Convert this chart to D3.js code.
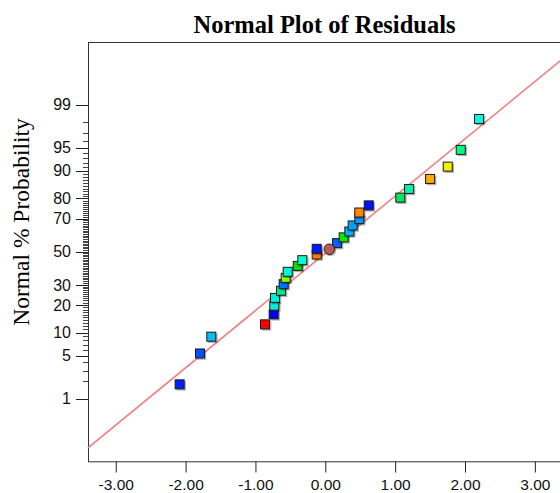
<!DOCTYPE html>
<html>
<head>
<meta charset="utf-8">
<script src="https://cdn.jsdelivr.net/npm/d3@7"></script>
<style>
  html, body { margin: 0; padding: 0; background: #fff; }
  svg { display: block; }
</style>
</head>
<body>
<svg id="chart" width="560" height="493"></svg>
<script>
// ---- data ----
const titleText = "Normal Plot of Residuals";
const yTitleText = "Normal % Probability";

const xTicks = [-3, -2, -1, 0, 1, 2, 3];
const xTickLabels = ["-3.00", "-2.00", "-1.00", "0.00", "1.00", "2.00", "3.00"];
const yMajorTicks = [1, 5, 10, 20, 30, 50, 70, 80, 90, 95, 99];
const yTickLabels = ["1", "5", "10", "20", "30", "50", "70", "80", "90", "95", "99"];
const yMinorTicks = d3.range(1, 100);

// residuals (x) and normal % probability (y) of the square points
const residuals = [-2.078, -1.787, -1.625, -0.856, -0.732, -0.723, -0.713, -0.627, -0.589, -0.560,
                   -0.531, -0.388, -0.322, -0.116, -0.116, 0.175, 0.270, 0.351, 0.399, 0.494,
                   0.494, 0.629, 1.081, 1.206, 1.507, 1.760, 1.946, 2.208];
const probabilities = [1.79, 5.36, 8.93, 12.5, 16.07, 19.64, 23.21, 26.79, 30.36, 33.93,
                       37.5, 41.07, 44.64, 48.21, 51.79, 55.36, 58.93, 62.5, 66.07, 69.64,
                       73.21, 76.79, 80.36, 83.93, 87.5, 91.07, 94.64, 98.21];
const pointColors = ["#0020ff", "#0050ff", "#00c0f0", "#ff0000", "#0000ff", "#00f0d8", "#00ecd8", "#00e890",
                     "#0070ff", "#80ff00", "#00f8d8", "#00e000", "#00ffd0", "#ff8000", "#0018ff", "#0060ff",
                     "#00ee00", "#00b0ff", "#00a4ff", "#0098ff", "#ff8800", "#0010ff", "#00e860", "#00f0b0",
                     "#ffaa00", "#f0f000", "#00ff80", "#00ffe0"];

// special circle point
const circleResidual = [0.064];
const circleProbability = [51.5];
const circleColor = "#b65a5a";

// fitted normal line (mean, sd of residuals)
const fitMean = 0.036;
const fitSd = 1.104;

(function () {
// ---- helpers ----
function normInv(p) {
  // Acklam's algorithm
  const a = [-3.969683028665376e+01, 2.209460984245205e+02, -2.759285104469687e+02,
             1.383577518672690e+02, -3.066479806614716e+01, 2.506628277459239e+00];
  const b = [-5.447609879822406e+01, 1.615858368580409e+02, -1.556989798598866e+02,
             6.680131188771972e+01, -1.328068155288572e+01];
  const c = [-7.784894002430293e-03, -3.223964580411365e-01, -2.400758277161838e+00,
             -2.549732539343734e+00, 4.374664141464968e+00, 2.938163982698783e+00];
  const d = [7.784695709041462e-03, 3.224671290700398e-01, 2.445134137142996e+00,
             3.754408661907416e+00];
  const pl = 0.02425, ph = 1 - pl;
  let q, r;
  if (p < pl) {
    q = Math.sqrt(-2 * Math.log(p));
    return (((((c[0]*q+c[1])*q+c[2])*q+c[3])*q+c[4])*q+c[5]) / ((((d[0]*q+d[1])*q+d[2])*q+d[3])*q+1);
  } else if (p <= ph) {
    q = p - 0.5; r = q*q;
    return (((((a[0]*r+a[1])*r+a[2])*r+a[3])*r+a[4])*r+a[5])*q / (((((b[0]*r+b[1])*r+b[2])*r+b[3])*r+b[4])*r+1);
  } else {
    q = Math.sqrt(-2 * Math.log(1 - p));
    return -(((((c[0]*q+c[1])*q+c[2])*q+c[3])*q+c[4])*q+c[5]) / ((((d[0]*q+d[1])*q+d[2])*q+d[3])*q+1);
  }
}

// ---- layout ----
const svg = d3.select("#chart");
const pLeft = 88, pTop = 42, pBottom = 461.3, pRight = 561.6;

const x = d3.scaleLinear().domain([-3.39, 3.39]).range([pLeft, pRight]);
const yz = d3.scaleLinear().domain([-3.317, 3.317]).range([pBottom, pTop]);
const y = pct => yz(normInv(pct / 100));

const sans = "'Liberation Sans', Arial, Helvetica, sans-serif";
const serif = "'Liberation Serif', 'Times New Roman', Times, serif";

// clip
svg.append("defs").append("clipPath").attr("id", "plotclip")
  .append("rect").attr("x", pLeft).attr("y", pTop).attr("width", pRight - pLeft).attr("height", pBottom - pTop);

// frame
svg.append("rect")
  .attr("x", pLeft + 0.5).attr("y", pTop + 0.5)
  .attr("width", pRight - pLeft).attr("height", pBottom - pTop)
  .attr("fill", "none").attr("stroke", "#333").attr("stroke-width", 1);

// title
svg.append("text")
  .attr("x", 324.5).attr("y", 32.5)
  .attr("text-anchor", "middle")
  .style("font-family", serif).style("font-weight", "bold").style("font-size", "24.5px")
  .attr("fill", "#000")
  .text(titleText);

// y title
svg.append("text")
  .attr("transform", "translate(28.5,222) rotate(-90)")
  .attr("text-anchor", "middle")
  .style("font-family", serif).style("font-size", "23.5px")
  .attr("fill", "#000")
  .text(yTitleText);

// y minor ticks
svg.append("g").selectAll("line").data(yMinorTicks).join("line")
  .attr("x1", pLeft - 5).attr("x2", pLeft)
  .attr("y1", d => Math.round(y(d)) + 0.5).attr("y2", d => Math.round(y(d)) + 0.5)
  .attr("stroke", "#444").attr("stroke-width", 1);

// y major ticks
svg.append("g").selectAll("line").data(yMajorTicks).join("line")
  .attr("x1", pLeft - 12).attr("x2", pLeft)
  .attr("y1", d => Math.round(y(d)) + 0.5).attr("y2", d => Math.round(y(d)) + 0.5)
  .attr("stroke", "#222").attr("stroke-width", 1);

svg.append("g").selectAll("text").data(yMajorTicks).join("text")
  .attr("x", 71).attr("y", d => y(d))
  .attr("dy", "0.36em")
  .attr("text-anchor", "end")
  .style("font-family", sans).style("font-size", "16px")
  .attr("fill", "#111")
  .text((d, i) => yTickLabels[i]);

// x axis ticks via d3 axis
const xAxis = d3.axisBottom(x).tickValues(xTicks).tickSize(11).tickSizeOuter(0)
  .tickFormat((d, i) => xTickLabels[i]);
const gx = svg.append("g").attr("transform", `translate(0.5,${pBottom + 0.2})`).call(xAxis);
gx.select(".domain").remove();
gx.selectAll(".tick line").attr("stroke", "#222");
gx.selectAll(".tick text")
  .attr("y", 28).attr("dy", "0")
  .style("font-family", sans).style("font-size", "15.5px").attr("fill", "#111");

// fitted line
const plot = svg.append("g").attr("clip-path", "url(#plotclip)");
const lineX = x.domain();
plot.append("line")
  .attr("x1", x(lineX[0])).attr("y1", yz((lineX[0] - fitMean) / fitSd))
  .attr("x2", x(lineX[1])).attr("y2", yz((lineX[1] - fitMean) / fitSd))
  .attr("stroke", "#f08080").attr("stroke-width", 1.6);

// squares
const pts = residuals.map((r, i) => ({ r, p: probabilities[i], c: pointColors[i] }));
const s = 9;
const g = plot.append("g");
pts.forEach(d => {
  const cx = x(d.r), cy = y(d.p);
  g.append("rect")
    .attr("x", cx - s / 2 + 1.3).attr("y", cy - s / 2 + 1.3)
    .attr("width", s + 0.5).attr("height", s + 0.5)
    .attr("fill", "#000").attr("opacity", 0.3);
  g.append("rect")
    .attr("x", cx - s / 2).attr("y", cy - s / 2)
    .attr("width", s).attr("height", s)
    .attr("fill", d.c).attr("stroke", "#1a1a1a").attr("stroke-width", 1);
});

// circle point
circleResidual.forEach((r, i) => {
  const cx = x(r), cy = y(circleProbability[i]);
  g.append("circle").attr("cx", cx + 1.2).attr("cy", cy + 1.2).attr("r", 5.6)
    .attr("fill", "#000").attr("opacity", 0.3);
  g.append("circle").attr("cx", cx).attr("cy", cy).attr("r", 5.3)
    .attr("fill", circleColor).attr("stroke", "#3a1a1a").attr("stroke-width", 1);
});
})();
</script>
</body>
</html>
